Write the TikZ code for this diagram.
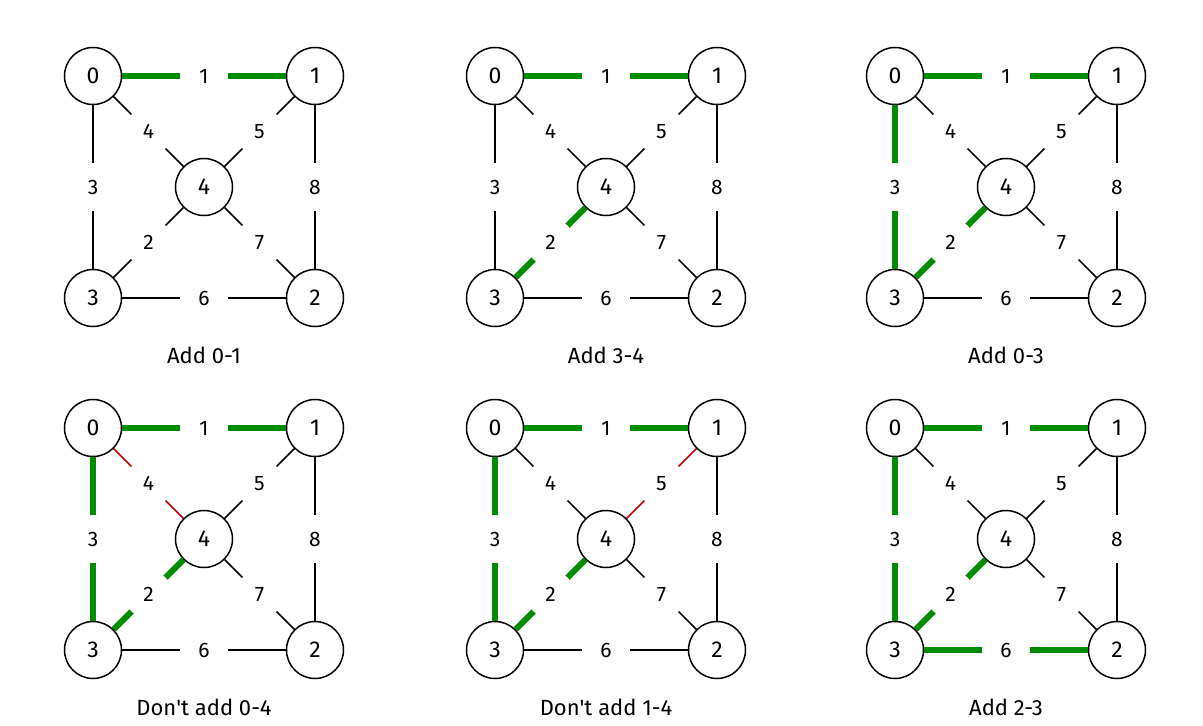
\documentclass[tikz,border=0pt]{standalone}
\usepackage{fontspec}
\setmainfont{Fira Sans}
\begin{document}
\begin{tikzpicture}[x=1pt,y=-1pt,
  vx/.style={circle,draw,line width=1.5pt,minimum size=57pt,inner sep=0pt,font=\fontsize{23}{26}\selectfont},
  lb/.style={circle,fill=white,inner sep=0pt,minimum size=48pt,text=black,font=\fontsize{21}{24}\selectfont},
  captxt/.style={font=\fontsize{22}{26}\selectfont},
  K/.style={line width=1.5pt,black},
  G/.style={line width=6pt,green!55!black},
  R/.style={line width=1.5pt,red!80!black},
  e01/.style=K,e04/.style=K,e14/.style=K,e03/.style=K,e12/.style=K,e34/.style=K,e42/.style=K,e32/.style=K]
\useasboundingbox (0,0) rectangle (1203,726);
\newcommand\pnl[2]{%
  \node[vx] (#1-0) at (93,76) {0};
  \node[vx] (#1-1) at (315,76) {1};
  \node[vx] (#1-4) at (204,187) {4};
  \node[vx] (#1-3) at (93,298) {3};
  \node[vx] (#1-2) at (315,298) {2};
  \draw[e01] (#1-0) -- node[lb]{1} (#1-1);
  \draw[e04] (#1-0) -- node[lb]{4} (#1-4);
  \draw[e14] (#1-1) -- node[lb]{5} (#1-4);
  \draw[e03] (#1-0) -- node[lb]{3} (#1-3);
  \draw[e12] (#1-1) -- node[lb]{8} (#1-2);
  \draw[e34] (#1-3) -- node[lb]{2} (#1-4);
  \draw[e42] (#1-4) -- node[lb]{7} (#1-2);
  \draw[e32] (#1-3) -- node[lb]{6} (#1-2);
  \node[captxt] (#1-c) at (204,355) {#2};}
\begin{scope}[e01/.style=G]\pnl{a}{Add 0-1}\end{scope}
\begin{scope}[shift={(402,0)},e01/.style=G,e34/.style=G]\pnl{b}{Add 3-4}\end{scope}
\begin{scope}[shift={(802,0)},e01/.style=G,e34/.style=G,e03/.style=G]\pnl{c}{Add 0-3}\end{scope}
\begin{scope}[shift={(0,352)},e01/.style=G,e34/.style=G,e03/.style=G,e04/.style=R]\pnl{d}{Don\textquotesingle t add 0-4}\end{scope}
\begin{scope}[shift={(402,352)},e01/.style=G,e34/.style=G,e03/.style=G,e14/.style=R]\pnl{e}{Don\textquotesingle t add 1-4}\end{scope}
\begin{scope}[shift={(802,352)},e01/.style=G,e34/.style=G,e03/.style=G,e32/.style=G]\pnl{f}{Add 2-3}\end{scope}
\end{tikzpicture}
\end{document}
